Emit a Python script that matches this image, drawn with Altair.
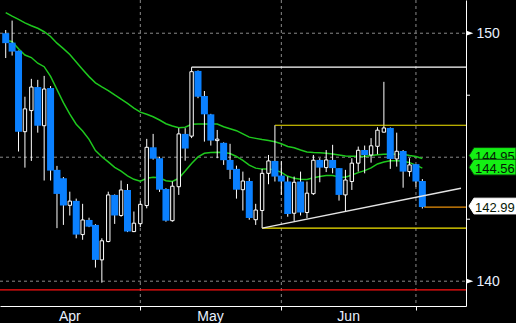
import altair as alt
import pandas as pd

# ---- data ----
idx = list(range(66))
opens = [150.00,149.62,149.29,146.03,146.88,147.83,146.27,147.79,144.49,144.15,
         143.06,143.24,141.88,142.47,142.27,140.86,141.60,143.48,142.65,143.68,
         142.00,142.32,143.05,145.40,144.96,143.72,142.44,143.81,145.94,145.85,
         148.48,147.47,146.73,145.67,145.58,144.89,144.53,143.69,144.04,142.48,
         142.85,144.35,144.85,144.26,144.02,142.74,144.02,142.77,143.53,144.89,
         144.58,144.89,144.56,143.48,144.02,144.76,145.29,145.09,145.44,146.01,
         146.18,144.93,145.25,144.42,144.72,144.04]
highs = [150.13,150.51,149.30,147.44,148.16,148.12,148.28,147.87,144.65,144.20,
         143.61,143.33,143.12,142.56,142.30,141.73,143.61,143.50,144.06,143.92,
         142.81,143.24,145.74,145.94,145.02,143.75,144.02,146.17,146.17,148.63,
         148.50,147.67,146.75,146.10,145.60,145.54,144.66,144.42,144.17,143.12,
         144.53,145.09,146.29,144.85,144.22,144.22,144.42,144.02,145.09,144.96,
         145.29,145.50,144.56,144.49,144.96,145.43,145.47,145.77,146.21,148.04,
         146.20,145.99,145.29,144.96,144.72,144.12]
lows = [149.00,149.10,145.23,144.58,144.85,145.99,144.06,144.06,142.14,142.27,
        142.65,141.73,141.67,142.18,140.55,139.94,141.57,142.31,142.60,141.98,
        141.98,142.18,142.94,144.90,143.60,142.40,142.40,143.48,144.86,145.77,
        147.38,145.63,145.47,144.96,144.69,144.12,143.33,142.85,142.48,142.27,
        142.14,143.91,144.02,143.48,142.60,142.43,142.65,142.54,143.48,143.99,
        144.40,144.35,143.25,142.83,143.68,144.42,144.35,144.78,145.12,146.00,
        144.53,144.62,143.77,144.22,143.81,142.93]
closes = [149.60,149.26,146.03,146.95,147.83,146.27,147.75,144.46,143.52,143.05,
          143.23,141.88,142.47,142.20,140.86,141.63,143.48,142.65,143.68,142.00,
          142.34,143.10,145.40,144.94,143.69,142.44,143.83,145.94,145.35,148.45,
          147.44,146.73,145.67,145.73,144.88,144.49,143.69,144.04,142.55,142.87,
          144.35,144.85,144.22,144.02,142.71,143.99,142.77,143.55,144.88,144.58,
          144.89,144.56,143.48,144.08,144.76,145.28,145.09,145.46,146.09,146.18,
          144.93,145.24,144.42,144.69,144.02,142.99]
ma_slow = [150.83,150.69,150.56,150.42,150.30,150.20,150.06,149.87,149.60,149.38,
           149.14,148.84,148.54,148.25,148.00,147.84,147.69,147.51,147.34,147.17,
           146.98,146.82,146.73,146.63,146.50,146.35,146.26,146.19,146.21,146.33,
           146.34,146.34,146.34,146.34,146.23,146.15,146.07,145.94,145.81,145.76,
           145.71,145.67,145.62,145.54,145.43,145.38,145.29,145.21,145.19,145.18,
           145.16,145.13,145.09,145.05,145.04,145.04,145.03,145.07,145.10,145.12,
           145.13,145.12,145.12,145.07,145.03,144.95]
ma_fast = [149.73,149.66,149.37,149.12,149.02,148.79,148.65,148.26,147.73,147.20,
           146.74,146.33,146.06,145.72,145.27,145.02,144.81,144.59,144.44,144.25,
           144.11,144.03,144.15,144.19,144.17,144.05,144.02,144.15,144.44,144.75,
           145.01,145.16,145.19,145.20,145.19,145.15,145.03,144.87,144.68,144.56,
           144.52,144.52,144.49,144.39,144.23,144.15,144.11,144.10,144.17,144.22,
           144.26,144.26,144.20,144.19,144.28,144.38,144.46,144.57,144.73,144.81,
           144.86,144.86,144.85,144.78,144.68,144.56]

month_labels = ["Apr", "May", "Jun"]
month_pos = [10.0, 31.95, 53.5]
grid_x = [21, 43, 64]
grid_y = [140, 145, 150]
y_tick_labels = [140, 150]
minor_ticks = [142.5, 147.5]
red_level = [139.65]
level_start = [29, 42, 40, 65.3]
level_price = [148.63, 146.29, 142.14, 142.99]
level_kind = ["white", "yellow", "yellow2", "orange"]
trend_x = [40, 71.03]
trend_y = [142.14, 143.75]

# ---- styling ----
FONT = "Liberation Sans, Arial, sans-serif"
LABEL_COL = "#e8f0ff"
BLUE = "#0a80ff"
GREEN = "#1ec81e"
W, H = 466, 306

XS = alt.Scale(domain=[-0.11, 71.03], nice=False, zero=False)
YS = alt.Scale(domain=[139.0, 151.34], nice=False, zero=False)
XAX = alt.Axis(values=grid_x, labels=False, ticks=True, tickColor="white", tickSize=4,
               tickWidth=1, domainColor="white", domainWidth=1, grid=False, title=None)
YAX = alt.Axis(orient="right", values=y_tick_labels, ticks=False, labelPadding=10,
               labelFont=FONT, labelFontSize=14, labelColor=LABEL_COL,
               domainColor="white", domainWidth=1, grid=False, title=None)


def XQ(f):
    return alt.X(f"{f}:Q", scale=XS, axis=XAX)


def YQ(f):
    return alt.Y(f"{f}:Q", scale=YS, axis=YAX)


df = pd.DataFrame({"i": idx, "open": opens, "high": highs, "low": lows,
                   "close": closes, "ma1": ma_slow, "ma2": ma_fast})

hgrid = alt.Chart(pd.DataFrame({"g": grid_y})).mark_rule(
    color="#8a8a8a", strokeDash=[3, 3], strokeWidth=1).encode(
    y=YQ("g"), x=alt.value(0), x2=alt.value(W))
vgrid = alt.Chart(pd.DataFrame({"gx": grid_x})).mark_rule(
    color="#8a8a8a", strokeDash=[3, 3], strokeWidth=1).encode(
    x=XQ("gx"), y=alt.value(0), y2=alt.value(H))
red = alt.Chart(pd.DataFrame({"r": red_level})).mark_rule(
    color="#ff1010", strokeWidth=1.4).encode(
    y=YQ("r"), x=alt.value(0), x2=alt.value(W))

base = alt.Chart(df)
ma1_line = base.mark_line(color=GREEN, strokeWidth=1.5, clip=True).encode(x=XQ("i"), y=YQ("ma1"))
ma2_line = base.mark_line(color=GREEN, strokeWidth=1.5, clip=True).encode(x=XQ("i"), y=YQ("ma2"))

wicks = base.mark_rule(color="white", strokeWidth=1, clip=True).encode(
    x=XQ("i"), y=YQ("low"), y2=alt.Y2("high:Q"))
up = base.transform_filter("datum.close >= datum.open").mark_bar(
    size=3.4, fill="black", stroke="white", strokeWidth=1, clip=True).encode(
    x=XQ("i"), y=YQ("open"), y2=alt.Y2("close:Q"))
down = base.transform_filter("datum.close < datum.open").mark_bar(
    size=7, color=BLUE, clip=True).encode(
    x=XQ("i"), y=YQ("open"), y2=alt.Y2("close:Q"))

levels = alt.Chart(pd.DataFrame({"s": level_start, "p": level_price, "k": level_kind})).mark_rule(
    strokeWidth=1.2).encode(
    x=XQ("s"), x2=alt.value(W), y=YQ("p"),
    color=alt.Color("k:N", legend=None,
                    scale=alt.Scale(domain=level_kind,
                                    range=["#ffffff", "#f5e600", "#f5e600", "#e8900a"])))
trend = alt.Chart(pd.DataFrame({"x": [trend_x[0]], "y": [trend_y[0]],
                                "x2": [trend_x[1]], "y2": [trend_y[1]]})).mark_rule(
    color="#e4e4e4", strokeWidth=1.5, clip=True).encode(
    x=XQ("x"), y=YQ("y"), x2=alt.X2("x2:Q"), y2=alt.Y2("y2:Q"))

minor = alt.Chart(pd.DataFrame({"m": minor_ticks})).mark_rule(color="white", strokeWidth=1).encode(
    y=YQ("m"), x=alt.value(W), x2=alt.value(W + 4))
tri = alt.Chart(pd.DataFrame({"t": y_tick_labels})).mark_point(
    shape="M-1,-0.72L1,0L-1,0.72Z", size=44, filled=True, color="white", opacity=1).encode(
    y=YQ("t"), x=alt.value(W + 4))

BOX = "M-1,0L-0.79,-0.335L1,-0.335L1,0.335L-0.79,0.335Z"
label_vals = [ma_slow[-1], ma_fast[-1], closes[-1]]
label_fill = ["#14f014", "#14f014", "#ffffff"]
label_stroke = ["#0a3a0a", "#0a3a0a", "#ffffff"]
label_off = [-3, -1, -1]

label_layers = []
for v, fc, sc, off in zip(label_vals, label_fill, label_stroke, label_off):
    d = pd.DataFrame({"v": [v]})
    label_layers.append(
        alt.Chart(d).mark_point(shape=BOX, size=47 * 47, filled=True, fill=fc, stroke=sc,
                                strokeWidth=1, opacity=1, yOffset=off).encode(
            y=YQ("v"), x=alt.value(W + 26.5)))
    label_layers.append(
        alt.Chart(d).mark_text(align="left", baseline="alphabetic", font=FONT, fontSize=13,
                               color="#061806", dy=off + 5.5).encode(
            y=YQ("v"), x=alt.value(W + 9), text=alt.Text("v:Q", format=".2f")))

months = alt.Chart(pd.DataFrame({"mp": month_pos, "ml": month_labels})).mark_text(
    align="center", baseline="alphabetic", font=FONT, fontSize=14, color=LABEL_COL).encode(
    x=XQ("mp"), y=alt.value(H + 15), text="ml:N")

chart = alt.layer(
    hgrid, vgrid, red, ma1_line, ma2_line, wicks, up, down, levels, trend,
    minor, tri, *label_layers, months
).properties(
    width=W, height=H, background="black",
    autosize=alt.AutoSizeParams(type="none"),
    padding={"left": 0, "top": 0, "right": 50, "bottom": 17},
).configure_view(stroke=None)

chart.save("out.html", embed_options={"renderer": "svg", "actions": False})
